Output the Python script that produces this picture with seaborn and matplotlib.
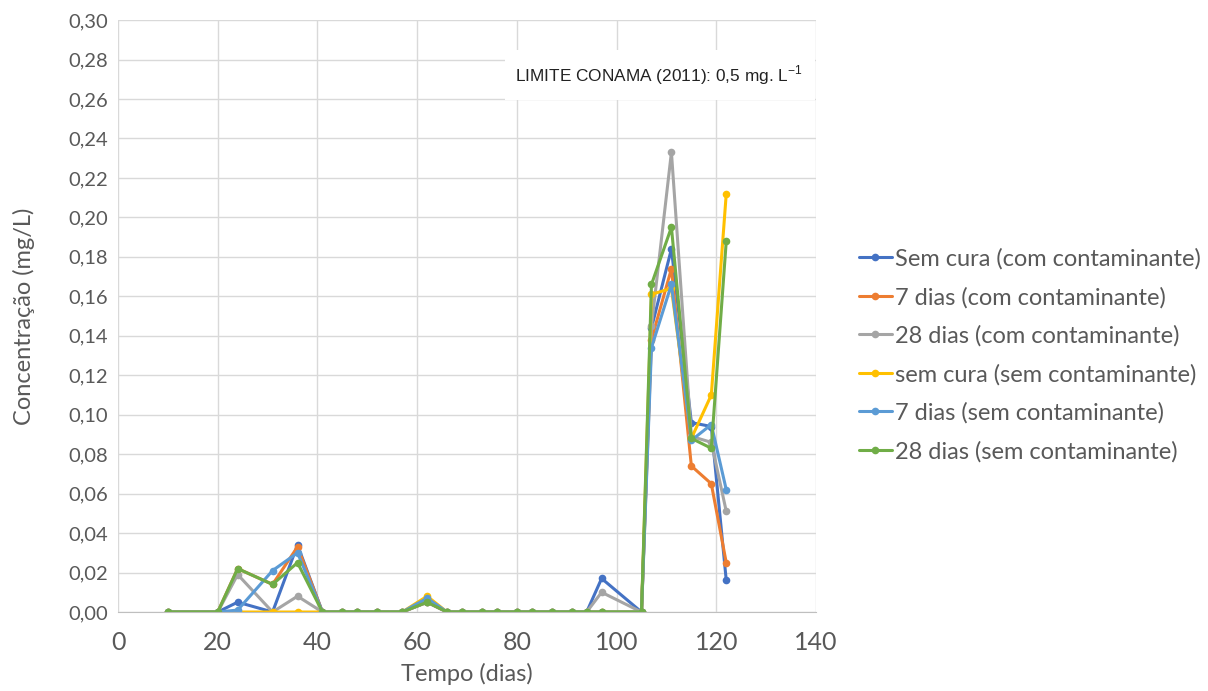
import matplotlib
matplotlib.use("Agg")
import matplotlib.pyplot as plt
import matplotlib.ticker as mticker
import pandas as pd
import seaborn as sns

# sampling days (shared by all series)
days = [10, 20, 24, 31, 36, 41, 45, 48, 52, 57, 62, 66, 69, 73, 76, 80, 83,
        87, 91, 94, 97, 105, 107, 111, 115, 119, 122]

series_names = [
    "Sem cura (com contaminante)",
    "7 dias (com contaminante)",
    "28 dias (com contaminante)",
    "sem cura (sem contaminante)",
    "7 dias (sem contaminante)",
    "28 dias (sem contaminante)",
]

sem_cura_com = [0, 0, 0.005, 0, 0.034, 0, 0, 0, 0, 0, 0.005, 0, 0, 0, 0, 0, 0,
                0, 0, 0, 0.017, 0, 0.144, 0.184, 0.096, 0.094, 0.016]
sete_com = [0, 0, 0.022, 0.014, 0.033, 0, 0, 0, 0, 0, 0.005, 0, 0, 0, 0, 0, 0,
            0, 0, 0, 0, 0, 0.138, 0.174, 0.074, 0.065, 0.025]
vinte8_com = [0, 0, 0.019, 0, 0.008, 0, 0, 0, 0, 0, 0.005, 0, 0, 0, 0, 0, 0,
              0, 0, 0, 0.010, 0, 0.145, 0.233, 0.089, 0.086, 0.051]
sem_cura_sem = [0, 0, 0, 0, 0, 0, 0, 0, 0, 0, 0.008, 0, 0, 0, 0, 0, 0,
                0, 0, 0, 0, 0, 0.161, 0.164, 0.088, 0.110, 0.212]
sete_sem = [0, 0, 0.001, 0.021, 0.030, 0, 0, 0, 0, 0, 0.007, 0, 0, 0, 0, 0, 0,
            0, 0, 0, 0, 0, 0.134, 0.166, 0.087, 0.095, 0.062]
vinte8_sem = [0, 0, 0.022, 0.014, 0.025, 0, 0, 0, 0, 0, 0.005, 0, 0, 0, 0, 0, 0,
              0, 0, 0, 0, 0, 0.166, 0.195, 0.088, 0.083, 0.188]

colors = ["#4472C4", "#ED7D31", "#A5A5A5", "#FFC000", "#5B9BD5", "#70AD47"]

all_values = [sem_cura_com, sete_com, vinte8_com, sem_cura_sem, sete_sem, vinte8_sem]
rows = []
for name, vals in zip(series_names, all_values):
    for d, v in zip(days, vals):
        rows.append({"dia": d, "conc": v, "serie": name})
df = pd.DataFrame(rows)

sns.set_style("white")
plt.rcParams["font.family"] = ["Lato", "DejaVu Sans"]

fig, ax = plt.subplots(figsize=(12.08, 6.91), dpi=100)
fig.subplots_adjust(left=0.0977, right=0.6755, top=0.971, bottom=0.1143)

sns.lineplot(data=df, x="dia", y="conc", hue="serie", hue_order=series_names,
             palette=colors, marker="o", markersize=5.5, markeredgewidth=0,
             linewidth=2.2, ax=ax, legend=True)

ax.set_xlim(0, 140)
ax.set_ylim(0, 0.30)
ax.set_xticks(range(0, 141, 20))
ax.set_yticks([i * 0.02 for i in range(16)])
ax.yaxis.set_major_formatter(mticker.FuncFormatter(lambda v, p: f"{v:.2f}".replace(".", ",")))
ax.grid(True, color="#d9d9d9", linewidth=1)
ax.set_axisbelow(True)
for s in ["top", "right", "left"]:
    ax.spines[s].set_visible(False)
ax.spines["bottom"].set_color("#bfbfbf")
ax.tick_params(axis="both", length=0, labelcolor="#595959")
ax.tick_params(axis="y", labelsize=14.5, pad=7)
ax.tick_params(axis="x", labelsize=18, pad=14)

ax.set_xlabel("Tempo (dias)", fontsize=17, color="#595959", labelpad=6)
ax.set_ylabel("Concentração (mg/L)", fontsize=17, color="#595959", labelpad=24)

# white box with the limit annotation
ax.add_patch(plt.Rectangle((0.554, 0.865), 0.445, 0.085, transform=ax.transAxes,
                           facecolor="white", edgecolor="none", zorder=3))
ax.text(0.569, 0.907, "LIMITE CONAMA (2011): 0,5 mg. L$^{\\mathregular{-1}}$",
        transform=ax.transAxes, fontsize=12.4, family=["Liberation Sans"],
        va="center", ha="left", color="#222222", zorder=4)

handles, labels = ax.get_legend_handles_labels()
ax.legend(handles, labels, loc="center left", bbox_to_anchor=(0.703, 0.486),
          bbox_transform=fig.transFigure, frameon=False, fontsize=17,
          labelcolor="#595959", handlelength=1.4, handletextpad=0.12,
          labelspacing=0.72, borderaxespad=0)

fig.savefig("out.png", dpi=100)
